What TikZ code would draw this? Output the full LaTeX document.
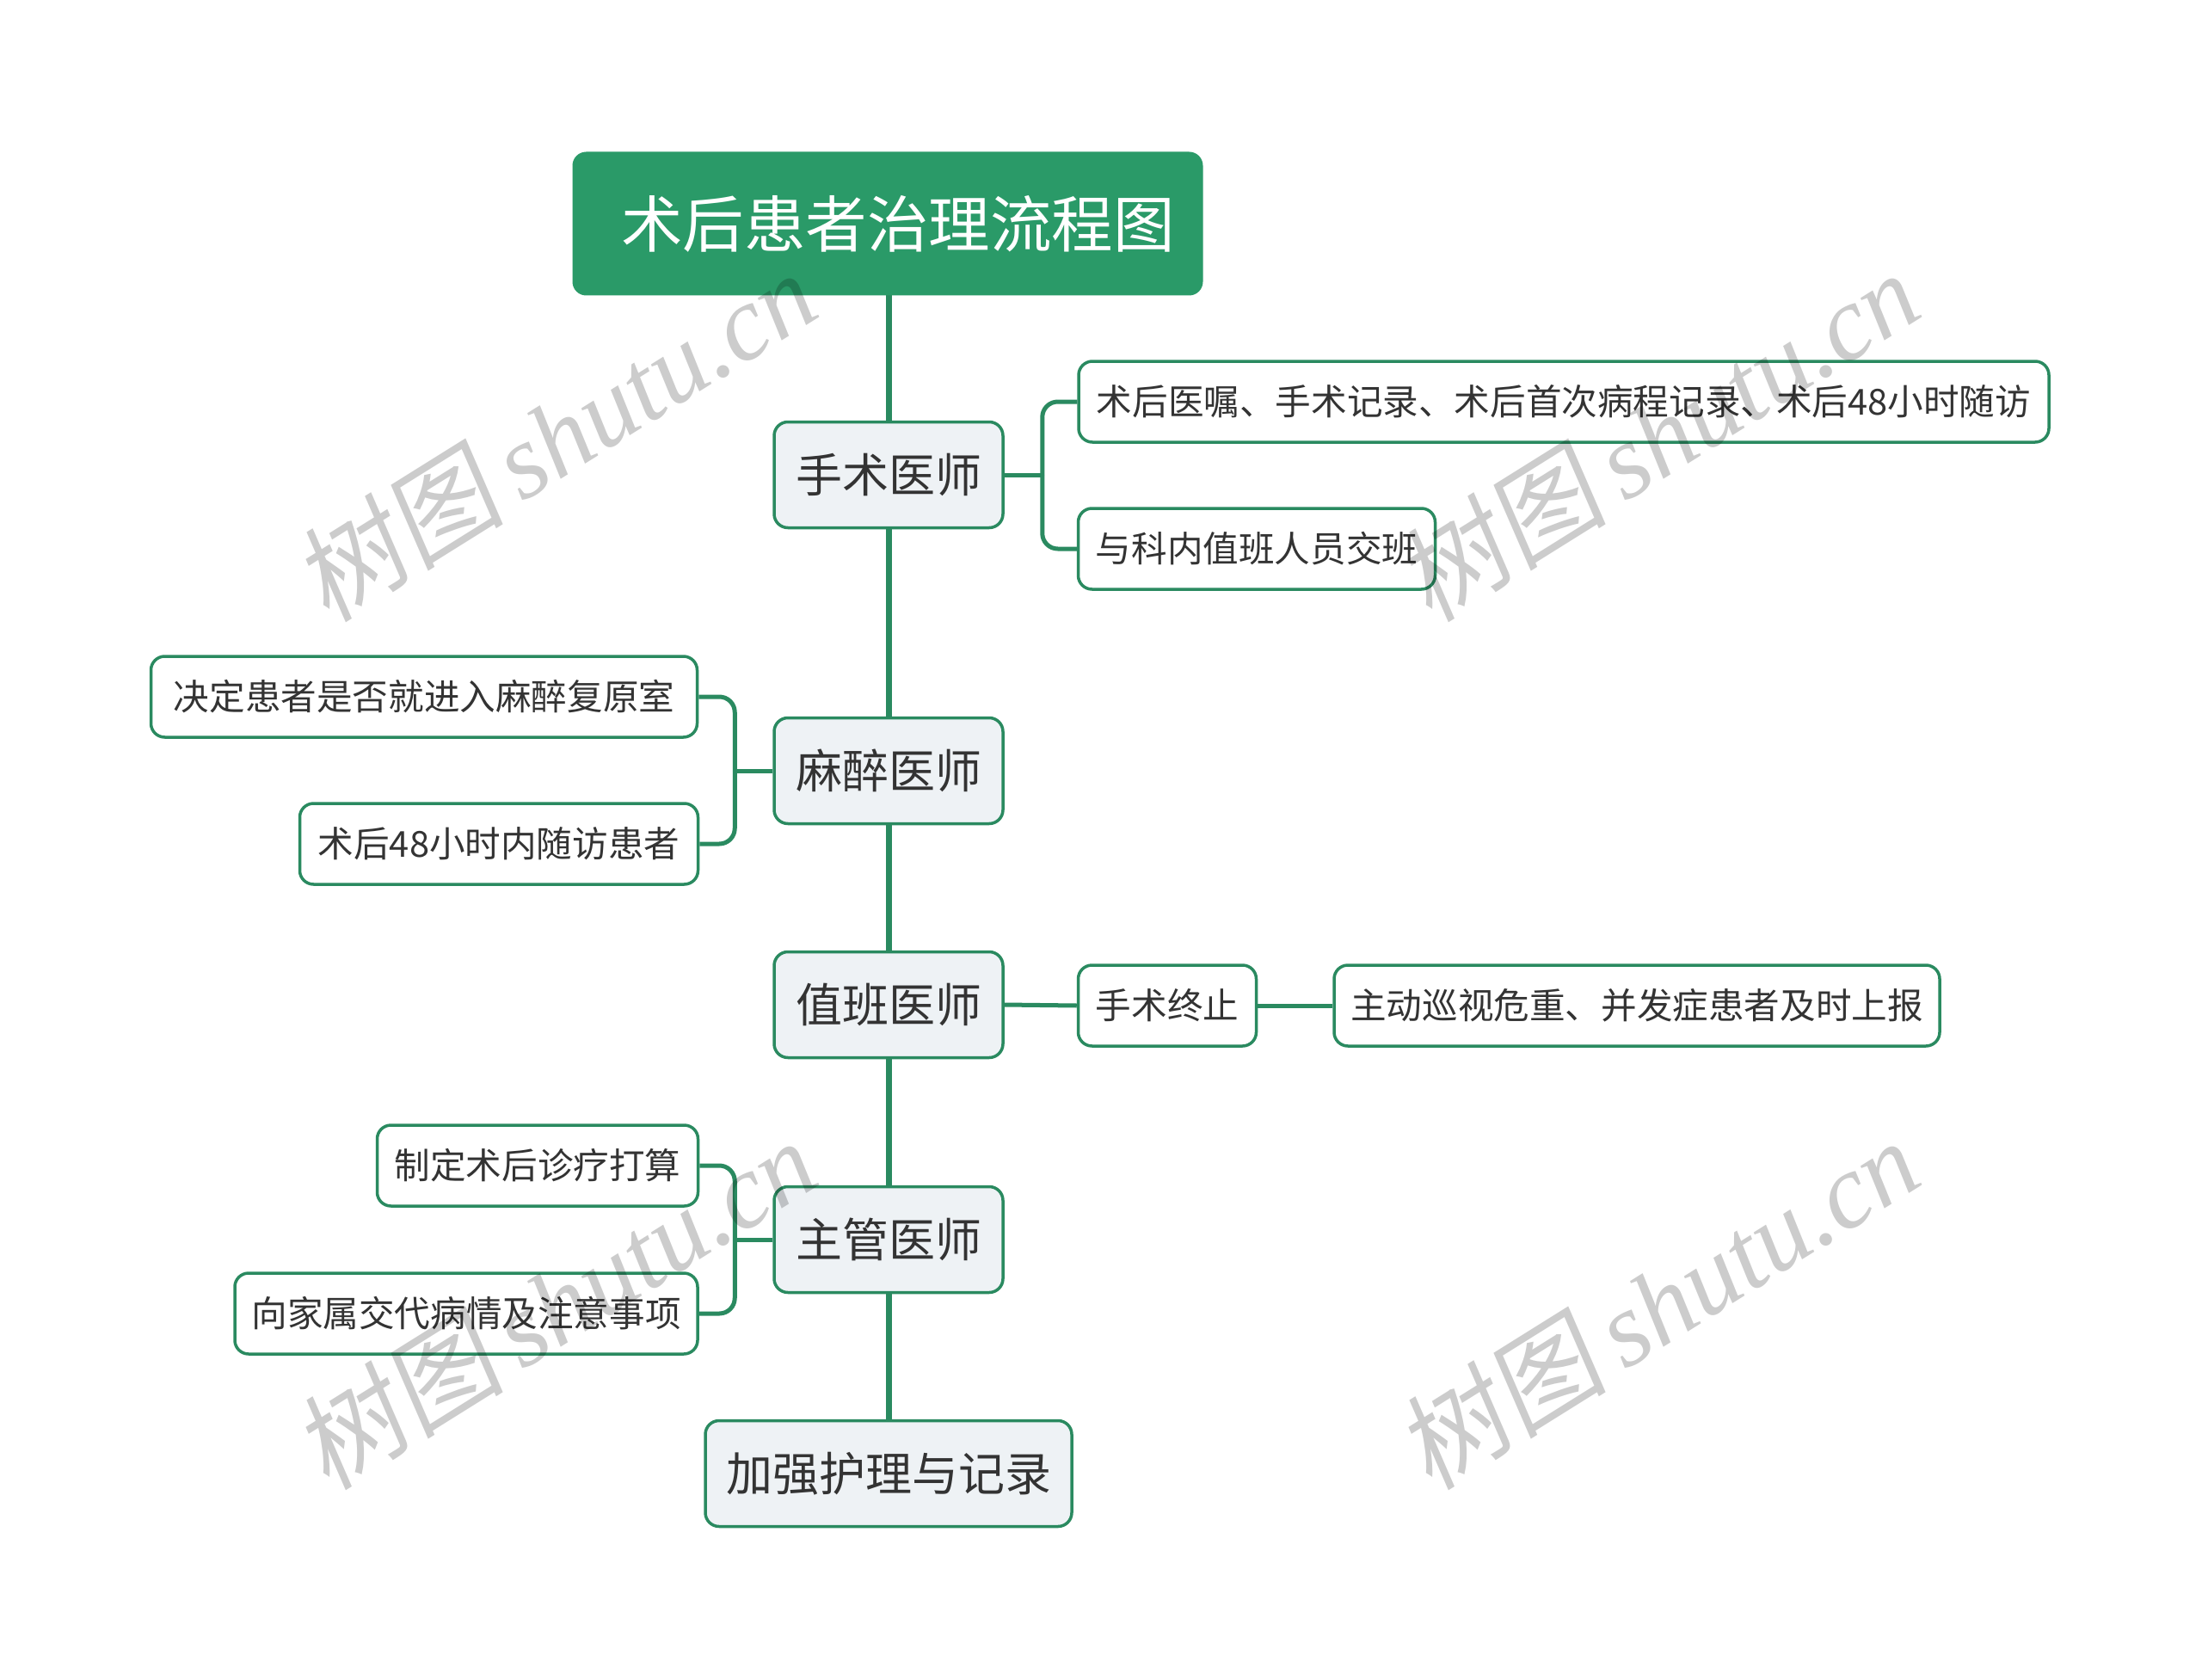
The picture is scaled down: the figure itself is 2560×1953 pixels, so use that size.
\documentclass[tikz,border=0pt]{standalone}
\usepackage{fontspec}
\setmainfont{Noto Sans CJK SC}
\newfontfamily\wmcjk[FakeSlant=0.15]{Noto Sans CJK SC}
\newfontfamily\wmlat{Liberation Serif}
\usetikzlibrary{calc}
\definecolor{mgreen}{HTML}{2A9A68}
\definecolor{bgreen}{HTML}{2A8A60}
\definecolor{mfill}{HTML}{EEF2F5}
\definecolor{txt}{HTML}{333333}
\begin{document}
\begin{tikzpicture}[x=1pt,y=-1pt,
  titlebox/.style={fill=mgreen, draw=none, rounded corners=16pt, text=white,
    font=\fontsize{71.5}{80}\selectfont, inner sep=0pt, minimum width=733pt, minimum height=167pt},
  mainbox/.style={fill=mfill, draw=bgreen, line width=3.5pt, rounded corners=16pt, text=txt,
    font=\fontsize{54}{60}\selectfont, inner sep=0pt, minimum width=266pt, minimum height=123pt},
  leafbox/.style={fill=white, draw=bgreen, line width=3.5pt, rounded corners=16pt, text=txt,
    font=\fontsize{41.6}{48}\selectfont, inner sep=0pt, minimum height=94pt},
  spine/.style={draw=bgreen, line width=7pt},
  branch/.style={draw=bgreen, line width=5pt, rounded corners=18pt},
  wm/.style={text=black, opacity=0.2, rotate=32, inner sep=0pt}
]
\useasboundingbox[fill=white] (0,0) rectangle (2560,1953);

% spine (drawn first, behind the nodes)
\coordinate (sp0) at (1033,300);
\coordinate (sp1) at (1033,1713);
\draw[spine] (sp0) -- (sp1);

\node[titlebox] (title) at (1032,260) {\hspace*{24pt}术后患者治理流程图};

\node[mainbox] (s1) at (1033,552) {手术医师};
\node[mainbox] (s2) at (1033,896) {麻醉医师};
\node[mainbox] (s3) at (1033,1168) {值班医师};
\node[mainbox] (s4) at (1033,1441) {主管医师};
\node[mainbox, minimum width=426pt] (s5) at (1033,1713) {加强护理与记录};

\node[leafbox, minimum width=1128pt] (c11) at (1818,467) {术后医嘱、手术记录、术后首次病程记录、术后48小时随访};
\node[leafbox, minimum width=415pt] (c12) at (1461,638) {与科内值班人员交班};
\node[leafbox, minimum width=635pt] (c21) at (493,810) {决定患者是否就进入麻醉复原室};
\node[leafbox, minimum width=463pt] (c22) at (580,981) {术后48小时内随访患者};
\node[leafbox, minimum width=207pt] (c31) at (1357,1169) {手术终止};
\node[leafbox, minimum width=704pt] (c32) at (1903,1169) {主动巡视危重、并发症患者及时上报};
\node[leafbox, minimum width=373pt] (c41) at (625,1355) {制定术后诊疗打算};
\node[leafbox, minimum width=538pt] (c42) at (542,1527) {向家属交代病情及注意事项};

% branches
\coordinate (j1) at ($(s1.east)+(44,0)$);
\draw[branch] (s1.east) -- (j1);
\draw[branch] (j1) |- (c11.west);
\draw[branch] (j1) |- (c12.west);

\coordinate (j2) at ($(s2.west)+(-44,0)$);
\draw[branch] (s2.west) -- (j2);
\draw[branch] (j2) |- (c21.east);
\draw[branch] (j2) |- (c22.east);

\draw[branch] (s3.east) -- (c31.west);
\draw[branch] (c31.east) -- (c32.west);

\coordinate (j4) at ($(s4.west)+(-44,0)$);
\draw[branch] (s4.west) -- (j4);
\draw[branch] (j4) |- (c41.east);
\draw[branch] (j4) |- (c42.east);

% watermarks
\node[wm] (w1) at (645,506) {\fontsize{123}{130}\selectfont\wmcjk 树图\,\wmlat\itshape shutu.cn};
\node[wm] (w2) at (1927,506) {\fontsize{123}{130}\selectfont\wmcjk 树图\,\wmlat\itshape shutu.cn};
\node[wm] (w3) at (645,1515) {\fontsize{123}{130}\selectfont\wmcjk 树图\,\wmlat\itshape shutu.cn};
\node[wm] (w4) at (1927,1515) {\fontsize{123}{130}\selectfont\wmcjk 树图\,\wmlat\itshape shutu.cn};
\end{tikzpicture}
\end{document}
